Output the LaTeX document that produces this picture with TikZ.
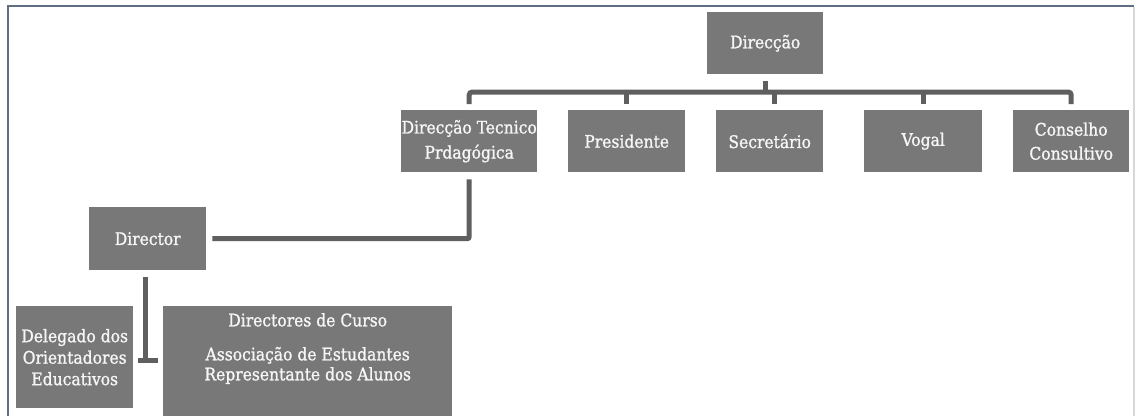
\documentclass[tikz,border=0pt]{standalone}
\usepackage{fontspec}
\setmainfont{DejaVu Serif Condensed}[FakeBold=1.2]
\definecolor{boxgray}{RGB}{120,120,120}
\definecolor{conngray}{RGB}{95,95,95}
\definecolor{framecol}{RGB}{96,110,132}
\definecolor{edgecol}{RGB}{215,215,215}
\definecolor{txt}{RGB}{246,246,246}
\begin{document}
\begin{tikzpicture}[x=1pt,y=-1pt,
  box/.style={draw=none, fill=boxgray, text=txt, inner sep=0pt, align=center,
    anchor=north west, font=\fontsize{17.3}{24}\selectfont},
  conn/.style={draw=conngray, line width=5pt},
  frameline/.style={draw=framecol, line width=2pt},
]
\useasboundingbox (0,0) rectangle (1135,415);
\fill[white] (0,0) rectangle (1135,415);
\draw[frameline] (7.5,416) -- (7.5,6) -- (1134,6);
\draw[edgecol, line width=1.5pt] (1134,7) -- (1134,416);

% top level
\node[box, minimum width=116, minimum height=62] (dir) at (707,12) {Direcção};
% second row
\node[box, minimum width=136, minimum height=62, font=\fontsize{17.3}{25}\selectfont] (dtp) at (401,110) {Direcção Tecnico\\Prdagógica};
\node[box, minimum width=117, minimum height=62] (pres) at (568,110) {Presidente};
\node[box, minimum width=107, minimum height=62] (sec) at (716,110) {Secretário};
\node[box, minimum width=118, minimum height=62] (vogal) at (864,110) {Vogal};
\node[box, minimum width=116, minimum height=62] (cons) at (1013,110) {Conselho\\Consultivo};
% lower part
\node[box, minimum width=117, minimum height=63] (director) at (89,207) {Director};
\node[box, minimum width=117, minimum height=102, font=\fontsize{17.3}{21.5}\selectfont] (delegado) at (16,306) {Delegado dos\\Orientadores\\Educativos};
\node[box, minimum width=289, inner ysep=7pt, font=\fontsize{17.3}{20}\selectfont] (dcurso) at (163,306)
  {Directores de Curso\\[14pt]Associação de Estudantes\\Representante dos Alunos\rule[-29pt]{0pt}{0pt}};

% connectors
\coordinate (bus) at (0,92);
\coordinate (hy) at (0,360);
\draw[conn] ([yshift=-7pt]dir.south) -- (dir.south |- bus);
\draw[conn, rounded corners=3pt] ([yshift=6pt]dtp.north) -- (dtp.north |- bus) -- (cons.north |- bus) -- ([yshift=6pt]cons.north);
\draw[conn] (pres.north |- bus) -- ([yshift=6pt]pres.north);
\draw[conn] ([xshift=4.5pt]sec.north |- bus) -- ([xshift=4.5pt,yshift=6pt]sec.north);
\draw[conn] (vogal.north |- bus) -- ([yshift=6pt]vogal.north);
\draw[conn, rounded corners=2pt] ([yshift=-7pt]dtp.south) |- ([xshift=6pt]director.east);
\draw[conn] ([xshift=-2pt,yshift=-7pt]director.south) -- ([xshift=-2pt,yshift=-2.5pt]director.south |- hy);
\draw[conn] ([xshift=5pt]delegado.east |- hy) -- ([xshift=-5pt]dcurso.west |- hy);
\end{tikzpicture}
\end{document}
